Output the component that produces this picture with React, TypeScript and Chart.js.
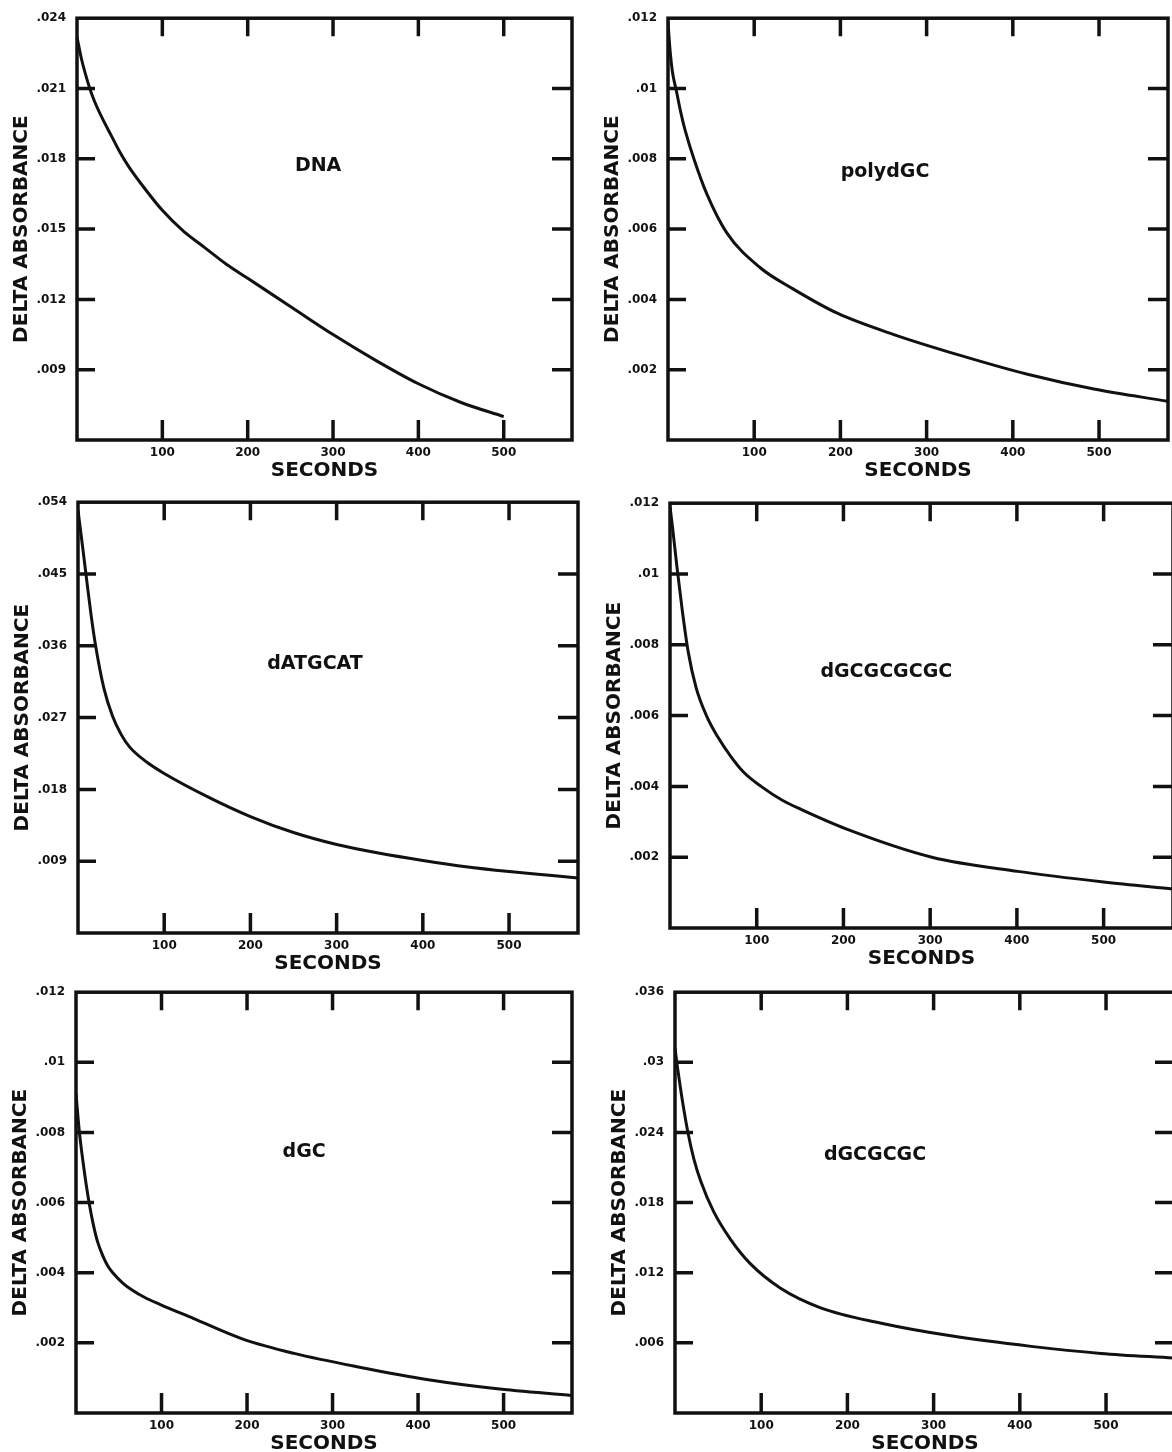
import React, { useEffect, useRef } from 'react';
import { Chart, registerables } from 'chart.js';

Chart.register(...registerables);

// ---------- data ----------
const X_RANGE = [0, 580];
const X_TICKS = [100, 200, 300, 400, 500];

// Panel: DNA
const DNA_T = [0, 5, 10, 15, 20, 30, 40, 50, 60, 80, 100, 125, 150, 175, 200, 250, 300, 350, 400, 450, 500];
const DNA_A = [0.0232, 0.0223, 0.0216, 0.0210, 0.0205, 0.0197, 0.0190, 0.0183, 0.0177, 0.0167, 0.0158, 0.0149, 0.0142, 0.0135, 0.0129, 0.0117, 0.0105, 0.0094, 0.0084, 0.0076, 0.0070];
const DNA_Y_TICKS = [0.009, 0.012, 0.015, 0.018, 0.021, 0.024];
const DNA_Y_RANGE = [0.006, 0.024];

// Panel: polydGC
const POLY_T = [0, 2, 5, 10, 15, 20, 30, 45, 68, 107, 145, 197, 262, 340, 417, 494, 580];
const POLY_A = [0.0119, 0.0112, 0.0105, 0.0099, 0.0093, 0.0088, 0.0080, 0.0070, 0.0059, 0.0049, 0.0043, 0.0036, 0.0030, 0.0024, 0.00187, 0.00145, 0.0011];
const POLY_Y_TICKS = [0.002, 0.004, 0.006, 0.008, 0.01, 0.012];
const POLY_Y_RANGE = [0, 0.012];

// Panel: dATGCAT
const ATGC_T = [0, 5, 10, 15, 20, 30, 40, 50, 60, 80, 100, 150, 200, 250, 300, 350, 400, 450, 500, 550, 580];
const ATGC_A = [0.0530, 0.0487, 0.0443, 0.0400, 0.0363, 0.0307, 0.0272, 0.0249, 0.0233, 0.0214, 0.0200, 0.0171, 0.0146, 0.0126, 0.0111, 0.0100, 0.0091, 0.0083, 0.0077, 0.0072, 0.0069];
const ATGC_Y_TICKS = [0.009, 0.018, 0.027, 0.036, 0.045, 0.054];
const ATGC_Y_RANGE = [0, 0.054];

// Panel: dGCGCGCGC
const GC8_T = [0, 3, 8, 14, 21, 30, 42, 55, 70, 85, 105, 130, 151, 203, 302, 401, 500, 580];
const GC8_A = [0.0119, 0.0113, 0.0102, 0.0090, 0.0078, 0.0068, 0.0060, 0.0054, 0.00485, 0.0044, 0.0040, 0.0036, 0.00335, 0.0028, 0.0020, 0.0016, 0.0013, 0.0011];
const GC8_Y_TICKS = [0.002, 0.004, 0.006, 0.008, 0.01, 0.012];
const GC8_Y_RANGE = [0, 0.012];

// Panel: dGC
const GC_T = [0, 4, 8, 12, 16, 20, 25, 31, 37, 43, 55, 66, 80, 98, 137, 196, 255, 333, 412, 490, 580];
const GC_A = [0.0091, 0.0080, 0.0072, 0.0065, 0.0059, 0.0054, 0.0049, 0.0045, 0.0042, 0.0040, 0.0037, 0.0035, 0.0033, 0.0031, 0.0027, 0.0021, 0.0017, 0.0013, 0.00095, 0.0007, 0.0005];
const GC_Y_TICKS = [0.002, 0.004, 0.006, 0.008, 0.01, 0.012];
const GC_Y_RANGE = [0, 0.012];

// Panel: dGCGCGC
const GC6_T = [0, 3, 8, 15, 22, 30, 45, 64, 87, 122, 169, 238, 320, 413, 494, 578];
const GC6_A = [0.0312, 0.0295, 0.0270, 0.0240, 0.0217, 0.0198, 0.0172, 0.0149, 0.0128, 0.0107, 0.0090, 0.0077, 0.0066, 0.0057, 0.0051, 0.0047];
const GC6_Y_TICKS = [0.006, 0.012, 0.018, 0.024, 0.03, 0.036];
const GC6_Y_RANGE = [0, 0.036];

// ---------- layout / style ----------
const AX_W = 77;
const PAD_T = 18;
const PAD_R = 8;
const AX_H = 52;
const INK = '#111';
const FONT = "'DejaVu Sans', sans-serif";

const PANELS = [
  { name: 'DNA', t: DNA_T, a: DNA_A, yTicks: DNA_Y_TICKS, yRange: DNA_Y_RANGE, box: { l: 77, t: 18, r: 572, b: 440 }, lab: [0.487, 0.35] },
  { name: 'polydGC', t: POLY_T, a: POLY_A, yTicks: POLY_Y_TICKS, yRange: POLY_Y_RANGE, box: { l: 668, t: 18, r: 1168, b: 440 }, lab: [0.434, 0.365] },
  { name: 'dATGCAT', t: ATGC_T, a: ATGC_A, yTicks: ATGC_Y_TICKS, yRange: ATGC_Y_RANGE, box: { l: 78, t: 502, r: 578, b: 933 }, lab: [0.474, 0.376] },
  { name: 'dGCGCGCGC', t: GC8_T, a: GC8_A, yTicks: GC8_Y_TICKS, yRange: GC8_Y_RANGE, box: { l: 670, t: 503, r: 1173, b: 928 }, lab: [0.43, 0.398] },
  { name: 'dGC', t: GC_T, a: GC_A, yTicks: GC_Y_TICKS, yRange: GC_Y_RANGE, box: { l: 76, t: 992, r: 572, b: 1413 }, lab: [0.46, 0.38] },
  { name: 'dGCGCGC', t: GC6_T, a: GC6_A, yTicks: GC6_Y_TICKS, yRange: GC6_Y_RANGE, box: { l: 675, t: 992, r: 1175, b: 1413 }, lab: [0.40, 0.387] },
];

function fmtY(v: number) {
  const r = Math.round(v * 1e6) / 1e6;
  return String(r).replace(/^0\./, '.');
}

function Panel({ p }: { p: any }) {
  const ref = useRef<HTMLCanvasElement>(null);
  const w = p.box.r - p.box.l + AX_W + PAD_R;
  const h = p.box.b - p.box.t + PAD_T + AX_H;

  useEffect(() => {
    if (!ref.current) return;
    const framePlugin = {
      id: 'frame',
      afterDraw(chart: any) {
        const { ctx, chartArea } = chart;
        const { left, right, top, bottom } = chartArea;
        const xs = chart.scales.x;
        const ys = chart.scales.y;
        ctx.save();
        ctx.strokeStyle = INK;
        ctx.lineWidth = 3.5;
        ctx.strokeRect(left, top, right - left, bottom - top);
        ctx.beginPath();
        const tl = 18;
        for (const tk of xs.ticks) {
          const v = tk.value;
          if (v <= xs.min || v >= xs.max) continue;
          const px = xs.getPixelForValue(v);
          ctx.moveTo(px, bottom);
          ctx.lineTo(px, bottom - tl - 2);
          ctx.moveTo(px, top);
          ctx.lineTo(px, top + tl);
        }
        for (const tk of ys.ticks) {
          const v = tk.value;
          if (v <= ys.min + 1e-9 || v >= ys.max - 1e-9) continue;
          const py = ys.getPixelForValue(v);
          ctx.moveTo(left, py);
          ctx.lineTo(left + tl, py);
          ctx.moveTo(right, py);
          ctx.lineTo(right - tl - 2, py);
        }
        ctx.stroke();
        ctx.fillStyle = INK;
        ctx.font = `bold 19px ${FONT}`;
        ctx.textAlign = 'center';
        ctx.textBaseline = 'middle';
        ctx.fillText(p.name, left + (right - left) * p.lab[0], top + (bottom - top) * p.lab[1]);
        ctx.restore();
      },
    };

    const chart = new Chart(ref.current, {
      type: 'scatter',
      data: {
        datasets: [
          {
            data: p.t.map((x: number, i: number) => ({ x, y: p.a[i] })),
            showLine: true,
            borderColor: INK,
            borderWidth: 3,
            pointRadius: 0,
            cubicInterpolationMode: 'monotone',
            fill: false,
          } as any,
        ],
      },
      options: {
        animation: false,
        responsive: false,
        devicePixelRatio: 1,
        layout: { padding: { top: PAD_T, right: PAD_R, left: 0, bottom: 0 }, autoPadding: false } as any,
        plugins: { legend: { display: false }, tooltip: { enabled: false } },
        scales: {
          x: {
            type: 'linear',
            min: X_RANGE[0],
            max: X_RANGE[1],
            grid: { display: false, drawTicks: false },
            border: { display: false },
            afterBuildTicks: (s: any) => {
              s.ticks = X_TICKS.map((v) => ({ value: v }));
            },
            afterFit: (s: any) => {
              s.height = AX_H;
            },
            ticks: {
              padding: 6,
              color: INK,
              font: { family: FONT, weight: 'bold', size: 12 },
              maxRotation: 0,
              autoSkip: false,
              callback: (v: any) => String(v),
            },
            title: {
              display: true,
              text: 'SECONDS',
              color: INK,
              font: { family: FONT, weight: 'bold', size: 20 },
              padding: { top: 0, bottom: 9 },
            },
          },
          y: {
            type: 'linear',
            min: p.yRange[0],
            max: p.yRange[1],
            grid: { display: false, drawTicks: false },
            border: { display: false },
            afterBuildTicks: (s: any) => {
              s.ticks = p.yTicks.map((v: number) => ({ value: v }));
            },
            afterFit: (s: any) => {
              s.width = AX_W;
            },
            ticks: {
              padding: 11,
              color: INK,
              font: { family: FONT, weight: 'bold', size: 12 },
              autoSkip: false,
              callback: (v: any) => fmtY(Number(v)),
            },
            title: {
              display: true,
              text: 'DELTA ABSORBANCE',
              color: INK,
              font: { family: FONT, weight: 'bold', size: 20 },
              padding: { top: 10, bottom: 0 },
            },
          },
        },
      } as any,
      plugins: [framePlugin],
    });
    return () => chart.destroy();
  }, [p]);

  return (
    <canvas
      ref={ref}
      width={w}
      height={h}
      style={{
        position: 'absolute',
        left: p.box.l - AX_W,
        top: p.box.t - PAD_T,
        width: w,
        height: h,
      }}
    />
  );
}

export default function App() {
  useEffect(() => {
    document.body.style.margin = '0';
    document.body.style.background = '#fff';
  }, []);
  return (
    <div style={{ position: 'relative', width: 1172, height: 1452, overflow: 'hidden', background: '#fff' }}>
      {PANELS.map((p) => (
        <Panel key={p.name} p={p} />
      ))}
    </div>
  );
}
